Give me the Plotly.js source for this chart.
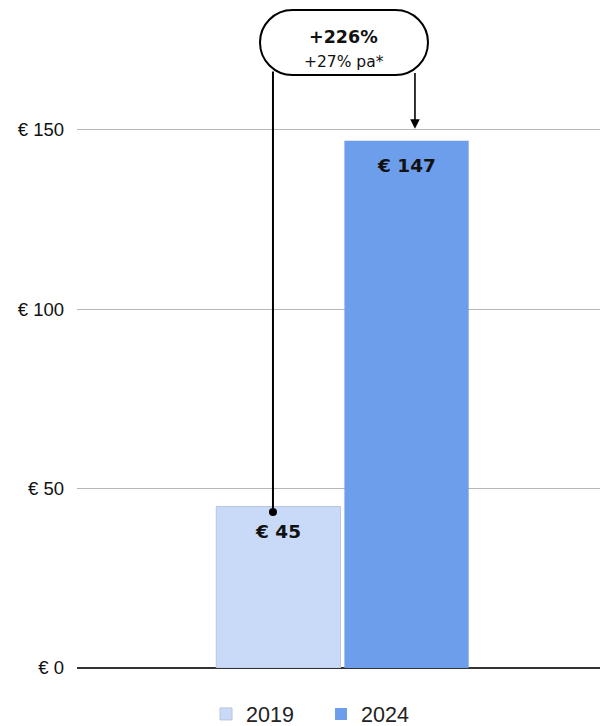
<!DOCTYPE html>
<html><head><meta charset="utf-8">
<script src="https://cdn.plot.ly/plotly-3.0.1.min.js"></script>
<style>html,body{margin:0;padding:0;background:#fff}#chart{width:600px;height:726px}</style>
</head><body><div id="chart"></div>
<script>
const categories = ['Price'];
const seriesNames = ['2019', '2024'];
const values2019 = [45];
const values2024 = [147];
const seriesColors = ['#c9daf8', '#6d9eeb'];
const yTicks = [0, 50, 100, 150];
const calloutMain = '+226%';
const calloutSub = '+27% pa*';

const barGap = 0.51, groupGap = 0.03;
const xRange = [-0.5076, 0.4924];
const yRange = [0, 186.2];
const SANS = '"Liberation Sans", Arial, sans-serif';
const WIDE = '"DejaVu Sans", sans-serif';

const traces = [values2019, values2024].map((vals, i) => ({
  type: 'bar', name: seriesNames[i], x: categories, y: vals,
  marker: {color: seriesColors[i], line: {color: i === 0 ? '#b8c6dc' : seriesColors[i], width: i === 0 ? 1 : 0}},
  hoverinfo: 'skip'
}));

const slot = (1 - barGap) / 2;
const centers = [-slot / 2, slot / 2];

const annotations = [];
[values2019, values2024].forEach((vals, i) => {
  annotations.push({
    xref: 'x', yref: 'y', x: centers[i], y: vals[0], yanchor: 'top', yshift: -12,
    text: '<b>€ ' + vals[0] + '</b>', showarrow: false,
    font: {family: WIDE, size: 18.5, color: '#111'}
  });
});

const pill = {x0: -0.1577, x1: 0.1635, y0: 165.3, y1: 183.4};
const pxPerX = 523 / (xRange[1] - xRange[0]);
const pxPerY = 668 / (yRange[1] - yRange[0]);
const rPx = (pill.y1 - pill.y0) * pxPerY / 2;
const rx = rPx / pxPerX, ry = rPx / pxPerY, k = 0.5523;
const yc = (pill.y0 + pill.y1) / 2;
const xc = (pill.x0 + pill.x1) / 2;
const path = [
  `M${pill.x0 + rx},${pill.y1}`,
  `L${pill.x1 - rx},${pill.y1}`,
  `C${pill.x1 - rx + k * rx},${pill.y1} ${pill.x1},${yc + k * ry} ${pill.x1},${yc}`,
  `C${pill.x1},${yc - k * ry} ${pill.x1 - rx + k * rx},${pill.y0} ${pill.x1 - rx},${pill.y0}`,
  `L${pill.x0 + rx},${pill.y0}`,
  `C${pill.x0 + rx - k * rx},${pill.y0} ${pill.x0},${yc - k * ry} ${pill.x0},${yc}`,
  `C${pill.x0},${yc + k * ry} ${pill.x0 + rx - k * rx},${pill.y1} ${pill.x0 + rx},${pill.y1}`,
  'Z'
].join(' ');

const leftX = -0.1329, rightX = 0.1386;
const dotY = values2019[0] - 1.5;
const shapes = [
  {type: 'line', xref: 'x', yref: 'y', x0: leftX, x1: leftX, y0: dotY, y1: pill.y0 + 1, line: {color: '#000', width: 2}},
  {type: 'path', xref: 'x', yref: 'y', path: path, fillcolor: '#fff', line: {color: '#000', width: 2}},
  {type: 'circle', xref: 'x', yref: 'y', xsizemode: 'pixel', ysizemode: 'pixel', xanchor: leftX, yanchor: dotY,
   x0: -4, x1: 4, y0: -4, y1: 4, fillcolor: '#000', line: {color: '#000', width: 0}}
];

annotations.push({
  xref: 'x', yref: 'y', x: rightX, y: values2024[0] + 3.3, axref: 'x', ayref: 'y', ax: rightX, ay: pill.y0 + 1,
  text: '', showarrow: true, arrowhead: 2, arrowsize: 1.2, arrowwidth: 1.6, arrowcolor: '#000'
});
annotations.push({
  xref: 'x', yref: 'y', x: xc, y: yc, yshift: 5.5, showarrow: false,
  text: '<b>' + calloutMain + '</b>', font: {family: WIDE, size: 17.5, color: '#111'}
});
annotations.push({
  xref: 'x', yref: 'y', x: xc, y: yc, yshift: -19.5, showarrow: false,
  text: calloutSub, font: {family: WIDE, size: 15.5, color: '#111'}
});

const layout = {
  width: 600, height: 726,
  margin: {l: 77, r: 0, t: 0, b: 58, autoexpand: false},
  paper_bgcolor: '#fff', plot_bgcolor: '#fff',
  font: {family: SANS, color: '#222'},
  barmode: 'group', bargap: barGap, bargroupgap: groupGap,
  xaxis: {type: 'category', range: xRange, showticklabels: false, showgrid: false, zeroline: false, showline: false, fixedrange: true},
  yaxis: {range: yRange, tickvals: yTicks, ticktext: yTicks.map(v => '€ ' + v), gridcolor: '#b7b7b7', gridwidth: 1,
          zeroline: true, zerolinecolor: '#333', zerolinewidth: 1.5, showline: false,
          tickfont: {family: SANS, size: 18.5, color: '#111'}, ticklabelstandoff: 12},
  showlegend: true,
  legend: {orientation: 'h', x: 0.2467, xanchor: 'left', y: -0.0688, yanchor: 'middle', entrywidth: 70,
           font: {family: SANS, size: 21.5, color: '#222'}, itemwidth: 30, traceorder: 'normal'},
  shapes: shapes, annotations: annotations
};

Plotly.newPlot('chart', traces, layout, {displayModeBar: false, staticPlot: true});
</script></body></html>
